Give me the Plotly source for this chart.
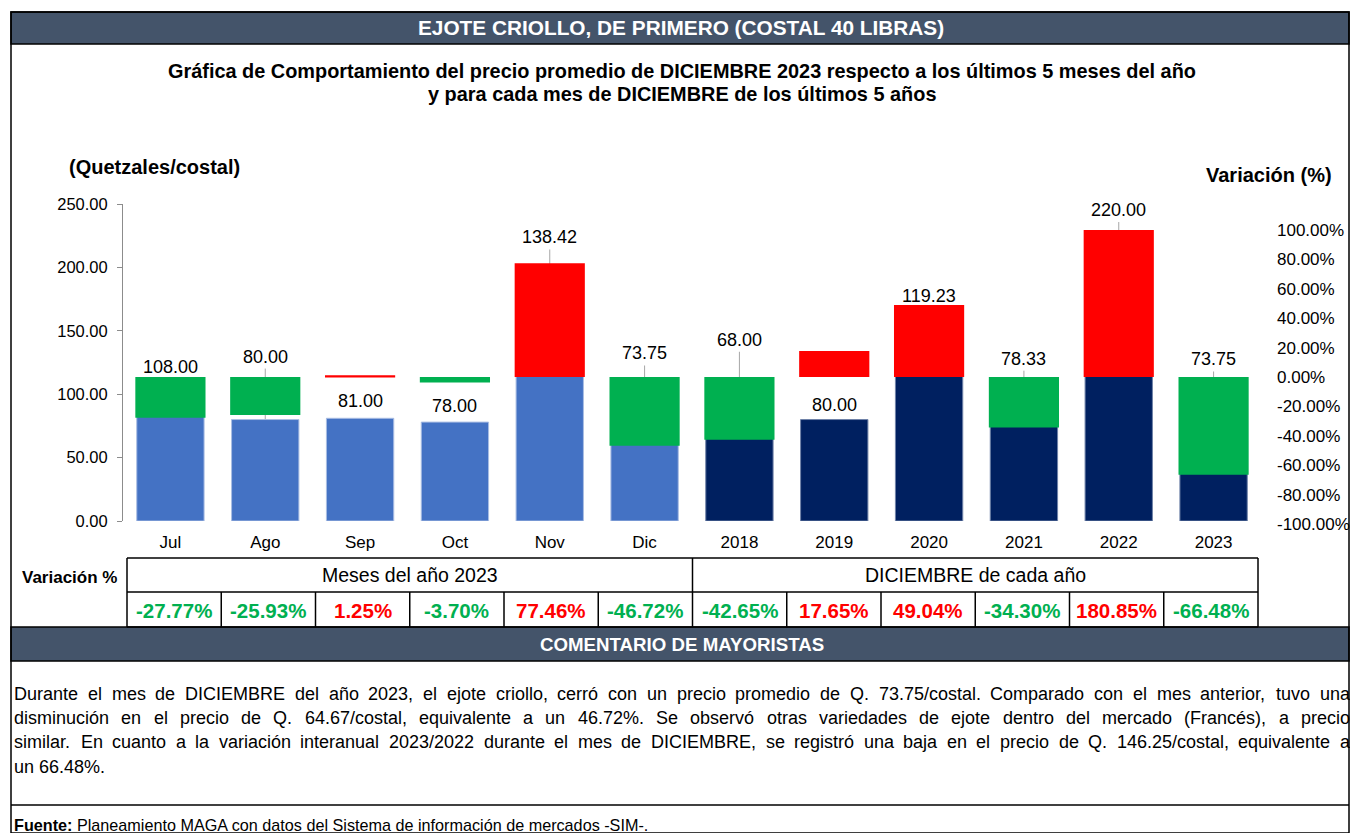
import plotly.graph_objects as go
import numpy as np

# ---------------- data ----------------
categories = ["Jul", "Ago", "Sep", "Oct", "Nov", "Dic",
              "2018", "2019", "2020", "2021", "2022", "2023"]
prices = [108.00, 80.00, 81.00, 78.00, 138.42, 73.75,
          68.00, 80.00, 119.23, 78.33, 220.00, 73.75]
variations = [-27.77, -25.93, 1.25, -3.70, 77.46, -46.72,
              -42.65, 17.65, 49.04, -34.30, 180.85, -66.48]
group_labels = ["Meses del año 2023", "DICIEMBRE de cada año"]
left_ticks = [0, 50, 100, 150, 200, 250]
right_ticks = [-100, -80, -60, -40, -20, 0, 20, 40, 60, 80, 100]

title_text = "EJOTE CRIOLLO, DE PRIMERO (COSTAL 40 LIBRAS)"
subtitle_lines = [
    "Gráfica de Comportamiento del precio promedio de DICIEMBRE 2023 respecto a los últimos 5 meses del año",
    "y para cada mes de DICIEMBRE de los últimos 5 años",
]
comment_lines = [
    "Durante el mes de DICIEMBRE del año 2023, el ejote criollo, cerró con un precio promedio de Q. 73.75/costal. Comparado con el mes anterior, tuvo una",
    "disminución en el precio de Q. 64.67/costal, equivalente a un 46.72%. Se observó otras variedades de ejote dentro del mercado (Francés), a precio",
    "similar. En cuanto a la variación interanual 2023/2022 durante el mes de DICIEMBRE, se registró una baja en el precio de Q. 146.25/costal, equivalente a",
    "un 66.48%.",
]
source_text = "<b>Fuente:</b> Planeamiento MAGA con datos del Sistema de información de mercados -SIM-."

# ---------------- layout helpers (styling only) ----------------
W, H = 1350, 833
FONT = "Liberation Sans, Arial, sans-serif"
BAR_DARK = "#44546A"
GREEN = "#00B050"
RED = "#FF0000"


def px(x):
    return x / W


def py(y):
    return 1 - y / H


# Arial / Liberation Sans advance widths (per 1000 em) used to justify text
_AW = {' ': 278, ',': 278, '.': 278, '/': 278, '%': 889, '(': 333, ')': 333, '-': 333, ':': 278,
       'A': 667, 'B': 667, 'C': 722, 'D': 722, 'E': 667, 'F': 611, 'G': 778, 'H': 722, 'I': 278,
       'J': 500, 'K': 667, 'L': 556, 'M': 833, 'N': 722, 'O': 778, 'P': 667, 'Q': 778, 'R': 722,
       'S': 667, 'T': 611, 'U': 722, 'V': 667, 'W': 944, 'X': 667, 'Y': 667, 'Z': 611,
       'a': 556, 'b': 556, 'c': 500, 'd': 556, 'e': 556, 'f': 278, 'g': 556, 'h': 556, 'i': 222,
       'j': 222, 'k': 500, 'l': 222, 'm': 833, 'n': 556, 'o': 556, 'p': 556, 'q': 556, 'r': 333,
       's': 500, 't': 278, 'u': 556, 'v': 500, 'w': 722, 'x': 500, 'y': 500, 'z': 500,
       'á': 556, 'é': 556, 'í': 278, 'ó': 556, 'ú': 556, 'ñ': 556}


def text_w(s, size):
    return sum(_AW.get(c, 556) for c in s) * size / 1000.0


# label vertical offsets (pixels above the price point)
label_offsets = [17, 63, 17, 16, 108, 74, 95, 15, 74, 63, 32, 68]

n = len(categories)
price_colors = ["#4472C4"] * 6 + ["#002060"] * 6
price_lines = ["#A9BDE3"] * 6 + ["#6F82A8"] * 6
var_colors = [GREEN if v < 0 else RED for v in variations]
var_bars = np.clip(np.array(variations), -100, 100)

fig = go.Figure()
fig.add_trace(go.Bar(
    x=categories, y=prices, xaxis="x", yaxis="y",
    marker=dict(color=price_colors, line=dict(color=price_lines, width=1)),
    width=0.71, showlegend=False, hoverinfo="x+y",
))
fig.add_trace(go.Bar(
    x=categories, y=var_bars, xaxis="x", yaxis="y2",
    marker=dict(color=var_colors, line=dict(width=0)),
    width=0.74, showlegend=False,
    customdata=variations, hovertemplate="%{x}: %{customdata:.2f}%<extra></extra>",
))

shapes = []
annotations = []


def ann(x, y, text, size, color="#000", xanchor="center", **kw):
    d = dict(xref="paper", yref="paper", x=px(x), y=py(y), text=text, showarrow=False,
             font=dict(family=FONT, size=size, color=color),
             xanchor=xanchor, yanchor="middle")
    d.update(kw)
    annotations.append(d)


# frame
shapes.append(dict(type="rect", xref="paper", yref="paper",
                   x0=px(11), x1=px(1349), y0=py(833), y1=py(12),
                   line=dict(color="#000", width=1.5), fillcolor="rgba(0,0,0,0)", layer="above"))
# title bar
shapes.append(dict(type="rect", xref="paper", yref="paper",
                   x0=px(11), x1=px(1349), y0=py(44), y1=py(12),
                   line=dict(color="#000", width=1.5), fillcolor=BAR_DARK, layer="below"))
ann(681, 28, "<b>" + title_text + "</b>", 20.8, "white")
# subtitles
for line, yy in zip(subtitle_lines, [71, 94]):
    ann(682, yy, "<b>" + line + "</b>", 19.9)
# axis titles
ann(67, 167, "<b>(Quetzales/costal)</b>", 20, xanchor="left")
ann(1204, 175, "<b>Variación (%)</b>", 20, xanchor="left")

# value labels with leader lines
for i, (p, off) in enumerate(zip(prices, label_offsets)):
    annotations.append(dict(xref="x", yref="y", x=i, y=p, yshift=off,
                            text=f"{p:.2f}", showarrow=False,
                            font=dict(family=FONT, size=18, color="#000"),
                            xanchor="center", yanchor="middle"))
    if off > 25:
        shapes.append(dict(type="line", xref="x", yref="y", ysizemode="pixel",
                           yanchor=p, x0=i, x1=i, y0=0, y1=off - 12,
                           line=dict(color="#A6A6A6", width=1), layer="below"))

# table
tx0, tx1 = 127, 1258
cw = (tx1 - tx0) / n
r0, r1, r2 = 558, 592, 627
for yy in [r0, r1, r2]:
    shapes.append(dict(type="line", xref="paper", yref="paper",
                       x0=px(tx0), x1=px(tx1), y0=py(yy), y1=py(yy),
                       line=dict(color="#000", width=1.5)))
for k in [0, 6, 12]:
    xx = tx0 + k * cw
    shapes.append(dict(type="line", xref="paper", yref="paper",
                       x0=px(xx), x1=px(xx), y0=py(r0), y1=py(r1),
                       line=dict(color="#000", width=1.5)))
for k in range(n + 1):
    xx = tx0 + k * cw
    shapes.append(dict(type="line", xref="paper", yref="paper",
                       x0=px(xx), x1=px(xx), y0=py(r1), y1=py(r2),
                       line=dict(color="#000", width=1.5)))
for g, lab in enumerate(group_labels):
    ann(tx0 + (g * 6 + 3) * cw, (r0 + r1) / 2, lab, 19.5)
for k, v in enumerate(variations):
    ann(tx0 + (k + 0.5) * cw, (r1 + r2) / 2 + 1, f"<b>{v:.2f}%</b>", 20.5,
        GREEN if v < 0 else RED)
ann(20, 577, "<b>Variación %</b>", 17, xanchor="left")

# comment bar
shapes.append(dict(type="rect", xref="paper", yref="paper",
                   x0=px(11), x1=px(1349), y0=py(661), y1=py(627),
                   line=dict(color="#000", width=1.5), fillcolor=BAR_DARK, layer="below"))
ann(682, 644, "<b>COMENTARIO DE MAYORISTAS</b>", 18.7, "white")

# justified comment paragraph (last line left aligned)
CSIZE = 18
left_x, right_x = 12, 1348
for li, (line, yy) in enumerate(zip(comment_lines, [694, 718, 742, 767])):
    if li == len(comment_lines) - 1:
        ann(left_x, yy, line, CSIZE, xanchor="left")
        continue
    words = line.split(" ")
    widths = [text_w(w, CSIZE) for w in words]
    gap = (right_x - left_x - sum(widths)) / (len(words) - 1)
    xcur = left_x
    for w, wd in zip(words, widths):
        ann(xcur, yy, w, CSIZE, xanchor="left")
        xcur += wd + gap

shapes.append(dict(type="line", xref="paper", yref="paper",
                   x0=px(11), x1=px(1349), y0=py(805), y1=py(805),
                   line=dict(color="#000", width=1.5)))
ann(12, 825, source_text, 16.2, xanchor="left")

fig.update_layout(
    width=W, height=H,
    margin=dict(l=0, r=0, t=0, b=0, autoexpand=False),
    paper_bgcolor="white", plot_bgcolor="rgba(0,0,0,0)",
    barmode="overlay",
    showlegend=False,
    font=dict(family=FONT, color="#000"),
    xaxis=dict(domain=[px(123), px(1261)], type="category", anchor="y",
               showgrid=False, showline=False, zeroline=False,
               ticks="outside", ticklen=6, tickcolor="rgba(0,0,0,0)",
               tickfont=dict(family=FONT, size=17, color="#000")),
    yaxis=dict(domain=[py(521), py(204)], range=[0, 250], anchor="x",
               tickvals=left_ticks, ticktext=[f"{v:.2f}" for v in left_ticks],
               showgrid=False, zeroline=False, showline=True, linecolor="#8C8C8C", linewidth=1,
               ticks="outside", ticklen=5, tickcolor="#8C8C8C", ticklabelstandoff=6,
               tickfont=dict(family=FONT, size=16.5, color="#000")),
    yaxis2=dict(domain=[py(524), py(200.6)], range=[-100, 120], anchor="x", side="right",
                tickvals=right_ticks, ticktext=[f"{v:.2f}%" for v in right_ticks],
                showgrid=False, zeroline=False, showline=False, ticks="",
                ticklabelstandoff=15,
                tickfont=dict(family=FONT, size=17, color="#000")),
    shapes=shapes,
    annotations=annotations,
)

fig.write_html("out.html", config={"displayModeBar": False},
               post_script="document.body.style.margin='0';document.body.style.overflow='hidden';")
